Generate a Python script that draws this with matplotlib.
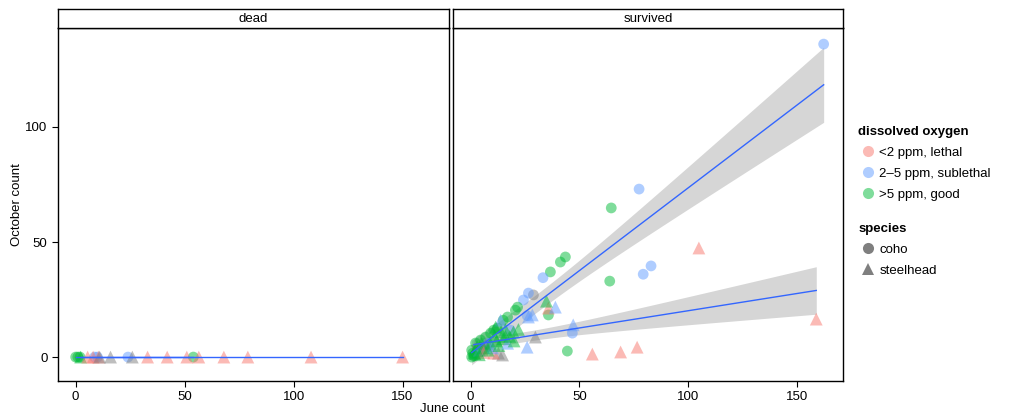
import numpy as np
import matplotlib
matplotlib.use("Agg")
import matplotlib.pyplot as plt
from matplotlib.lines import Line2D

plt.rcParams['font.family'] = ['Liberation Sans', 'DejaVu Sans']

# dissolved oxygen classes: 'L' <2 ppm, 'S' 2-5 ppm, 'G' >5 ppm, 'N' missing
do_colors = {'L': '#F8766D', 'S': '#619CFF', 'G': '#00BA38', 'N': '#7F7F7F'}
do_labels = ['<2 ppm, lethal', '2\u20135 ppm, sublethal', '>5 ppm, good']

# dead panel
dead_coho_june = [0, 1, 2, 8.7, 10, 24, 54]
dead_coho_oct = [0, 0, 0, 0, 0, 0, 0]
dead_coho_do = ['G', 'G', 'G', 'S', 'S', 'S', 'G']

dead_steel_june = [2.3, 5.5, 8, 10.5, 11, 16, 26, 33, 42, 51, 56.5, 68, 79, 108, 150]
dead_steel_oct = [0] * 15
dead_steel_do = ['G', 'L', 'L', 'L', 'N', 'N', 'N', 'L', 'L', 'L', 'L', 'L', 'L', 'L', 'L']

# survived panel
surv_coho_june = [162.4, 77.5, 64.7, 79.4, 83, 64, 43.6, 41.3, 36.7, 33.3, 28.9, 26.6,
                  24.3, 35.8, 21.6, 20.6, 17, 15, 12.4, 26, 46.8, 44.5, 18.3, 10.6,
                  9.2, 6.9, 4.6, 2.3, 0.5, 1, 0.5, 5, 3, 8, 1.5]
surv_coho_oct = [136, 73, 64.8, 36, 39.6, 33, 43.5, 41.3, 37, 34.5, 27, 27.8,
                 24.8, 18.3, 21.7, 20.4, 17.4, 16, 12.6, 18, 10.4, 2.6, 11.7, 11.7,
                 10.4, 8.7, 7.4, 6.1, 3, 1.7, 0, 3, 4, 6, 0.5]
surv_coho_do = ['S', 'S', 'G', 'S', 'S', 'G', 'G', 'G', 'G', 'S', 'N', 'S',
                'S', 'G', 'G', 'G', 'G', 'G', 'G', 'S', 'S', 'G', 'S', 'G',
                'G', 'G', 'G', 'G', 'G', 'G', 'G', 'S', 'N', 'S', 'G']

surv_steel_june = [105, 159, 35.8, 39, 34.9, 13.8, 28.4, 26.6, 47.2, 29.8, 26, 56,
                   69, 76.6, 12.8, 14.7, 10.6, 11.5, 19.7, 16, 5, 3, 8, 22, 1.5,
                   2, 3, 4, 5, 6, 7, 9, 10, 12, 13, 15, 17, 18, 20, 6, 8, 11, 14,
                   16, 4, 2]
surv_steel_oct = [47.4, 16.5, 21.3, 21.7, 24.3, 16, 18.3, 17.4, 14, 8.7, 4.3, 1.3,
                  2.2, 4.3, 1.7, 0.9, 1.7, 13, 10.9, 9, 4, 3, 5, 12, 2,
                  3, 4.5, 3, 6, 4, 5.5, 6, 4, 7, 5, 8, 6, 9, 7, 2, 3, 9, 11,
                  12, 1, 1.5]
surv_steel_do = ['L', 'L', 'L', 'S', 'G', 'S', 'S', 'S', 'S', 'N', 'S', 'L',
                 'L', 'L', 'N', 'N', 'L', 'G', 'G', 'G', 'G', 'N', 'S', 'G', 'G',
                 'G', 'G', 'S', 'G', 'G', 'N', 'G', 'S', 'G', 'G', 'G', 'S', 'G',
                 'G', 'L', 'G', 'G', 'G', 'G', 'G', 'G']


def t_quantile(df, z=1.959964):
    # Cornish-Fisher style expansion of the 97.5% t quantile
    return (z + (z**3 + z) / (4 * df) + (5 * z**5 + 16 * z**3 + 3 * z) / (96 * df**2)
            + (3 * z**7 + 19 * z**5 + 17 * z**3 - 15 * z) / (384 * df**3))


def smooth(ax, x, y):
    x = np.asarray(x, float)
    y = np.asarray(y, float)
    n = len(x)
    b, a = np.polyfit(x, y, 1)
    xs = np.linspace(x.min(), x.max(), 80)
    fit = a + b * xs
    resid = y - (a + b * x)
    s = np.sqrt(np.sum(resid**2) / (n - 2))
    se = s * np.sqrt(1 / n + (xs - x.mean())**2 / np.sum((x - x.mean())**2))
    t = t_quantile(n - 2)
    ax.fill_between(xs, fit - t * se, fit + t * se, color='#999999', alpha=0.4, lw=0, zorder=1)
    ax.plot(xs, fit, color='#3366FF', lw=1.0, zorder=3)


def points(ax, x, y, do, marker, size):
    cols = [do_colors[d] for d in do]
    ax.scatter(x, y, c=cols, marker=marker, s=size, alpha=0.5, linewidths=0, zorder=2)


fig = plt.figure(figsize=(10.09, 4.15), dpi=100)
W, H = 1009, 415
bottom, top = 381, 28
panels = [(58, 449, 'dead'), (453, 843, 'survived')]
axes = []
for left, right, name in panels:
    ax = fig.add_axes([left / W, (H - bottom) / H, (right - left) / W, (bottom - top) / H])
    sax = fig.add_axes([left / W, (H - top) / H, (right - left) / W, 19 / H])
    sax.set_xticks([])
    sax.set_yticks([])
    sax.text(0.5, 0.5, name, ha='center', va='center', fontsize=9.5, transform=sax.transAxes)
    for sp in sax.spines.values():
        sp.set_linewidth(1.0)
    axes.append(ax)

ax_dead, ax_surv = axes

points(ax_dead, dead_coho_june, dead_coho_oct, dead_coho_do, 'o', 60)
points(ax_dead, dead_steel_june, dead_steel_oct, dead_steel_do, '^', 85)
smooth(ax_dead, dead_coho_june, dead_coho_oct)
smooth(ax_dead, dead_steel_june, dead_steel_oct)

points(ax_surv, surv_coho_june, surv_coho_oct, surv_coho_do, 'o', 60)
points(ax_surv, surv_steel_june, surv_steel_oct, surv_steel_do, '^', 85)
smooth(ax_surv, surv_coho_june, surv_coho_oct)
smooth(ax_surv, surv_steel_june, surv_steel_oct)

for i, ax in enumerate(axes):
    ax.set_xlim(-8.1, 171.3)
    ax.set_ylim(-10.4, 143)
    ax.set_xticks([0, 50, 100, 150])
    ax.set_yticks([0, 50, 100])
    ax.tick_params(direction='out', length=4, width=0.8, labelsize=9.5, colors='black')
    for sp in ax.spines.values():
        sp.set_linewidth(1.0)
    if i == 1:
        ax.tick_params(axis='y', left=False, labelleft=False)

ax_dead.set_ylabel('October count', fontsize=9.5, labelpad=2)
fig.text(452 / W, 1 - 409 / H, 'June count', ha='center', va='center', fontsize=9.5)

do_handles = [Line2D([], [], marker='o', ls='', color=do_colors[k], alpha=0.5,
                     markersize=8, markeredgewidth=0) for k in ['L', 'S', 'G']]
leg1 = fig.legend(do_handles, do_labels, title='dissolved oxygen', loc='upper left',
                  bbox_to_anchor=(853 / W, 1 - 121 / H), frameon=False, fontsize=9.5,
                  title_fontsize=9.5, alignment='left', handletextpad=0.1,
                  labelspacing=0.65, borderaxespad=0, handlelength=1.5)
leg1.get_title().set_fontweight('bold')

sp_handles = [Line2D([], [], marker='o', ls='', color='#7F7F7F', markersize=8, markeredgewidth=0),
              Line2D([], [], marker='^', ls='', color='#7F7F7F', markersize=9, markeredgewidth=0)]
leg2 = fig.legend(sp_handles, ['coho', 'steelhead'], title='species', loc='upper left',
                  bbox_to_anchor=(853 / W, 1 - 218 / H), frameon=False, fontsize=9.5,
                  title_fontsize=9.5, alignment='left', handletextpad=0.1,
                  labelspacing=0.65, borderaxespad=0, handlelength=1.5)
leg2.get_title().set_fontweight('bold')

fig.savefig('out.png', dpi=100)
